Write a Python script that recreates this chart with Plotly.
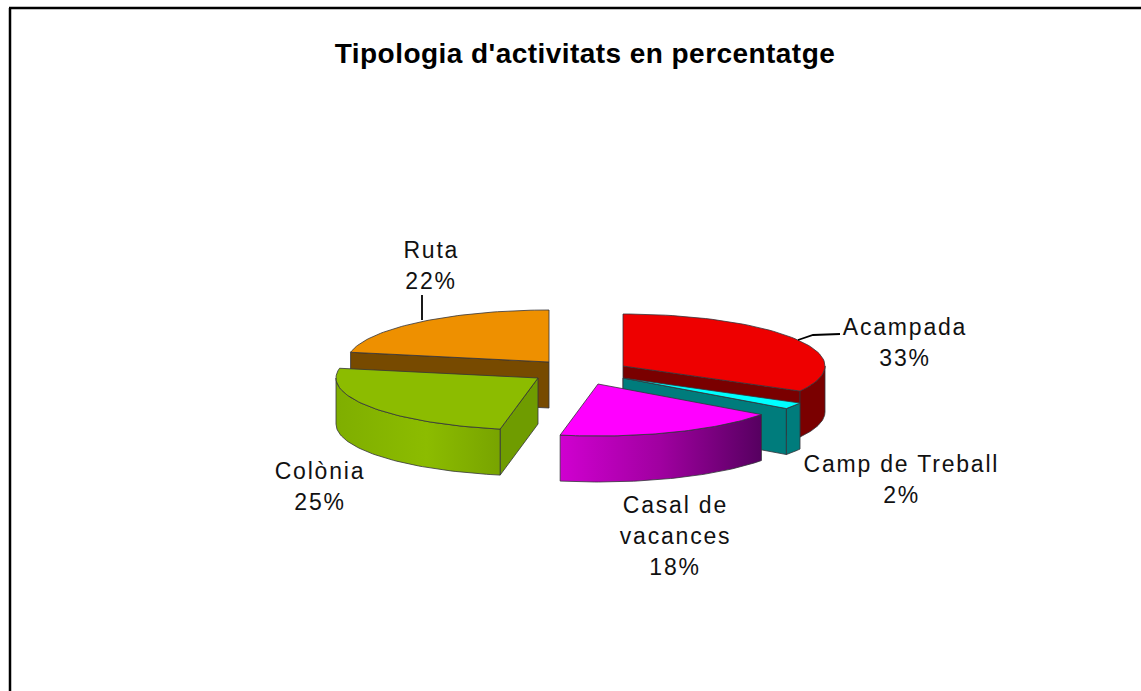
import numpy as np
import plotly.graph_objects as go

# --- data -------------------------------------------------------------
categories = ["Acampada", "Camp de Treball", "Casal de vacances", "Colònia", "Ruta"]
values = [33, 2, 18, 25, 22]
title_text = "Tipologia d'activitats en percentatge"

# --- styling / layout -------------------------------------------------
W, H = 1141, 691
RX, RY, DEPTH = 202, 52, 46
apex = {"Acampada": (623, 366), "Camp de Treball": (623, 378), "Casal de vacances": (598, 384),
        "Colònia": (538, 378), "Ruta": (549, 362)}
top_col = {"Acampada": "#ee0000", "Camp de Treball": "#00ffff", "Casal de vacances": "#ff00ff",
           "Colònia": "#8cbc00", "Ruta": "#ee9000"}
face_col = {"Acampada": "#7a0000", "Camp de Treball": "#007c7c", "Casal de vacances": "#7a007a",
            "Colònia": "#6f9c00", "Ruta": "#774a00"}
wall_grad = {"Casal de vacances": [[0, "#d000d0"], [0.5, "#a000a0"], [1, "#560060"]],
             "Colònia": [[0, "#7fae00"], [0.55, "#8cbc00"], [1, "#78a400"]]}
edge_col = "#33333a"
draw_order = ["Ruta", "Acampada", "Camp de Treball", "Colònia", "Casal de vacances"]
labels = {"Ruta": (431, 250, ["Ruta", "22%"]),
          "Acampada": (905, 327, ["Acampada", "33%"]),
          "Camp de Treball": (901, 464, ["Camp de Treball", "2%"]),
          "Casal de vacances": (675, 505, ["Casal de", "vacances", "18%"]),
          "Colònia": (320, 471, ["Colònia", "25%"])}
line_step = 31
label_size = 23

# --- geometry derived from the values ---------------------------------
cum = np.concatenate([[0], np.cumsum(values)]) / np.sum(values) * 360
spans = {c: (cum[i], cum[i + 1]) for i, c in enumerate(categories)}


def rim(name, a0, a1, n=60):
    t = np.radians(np.linspace(a0, a1, n))
    ax, ay = apex[name]
    return ax + RX * np.sin(t), ay - RY * np.cos(t)


fig = go.Figure()


def poly(x, y, color=None, grad=None, name=""):
    kw = dict(fillcolor=color) if grad is None else dict(
        fillgradient=dict(type="horizontal", colorscale=grad))
    fig.add_trace(go.Scatter(x=list(x), y=list(y), mode="lines", fill="toself", name=name,
                             line=dict(color=edge_col, width=0.8), hoverinfo="name", **kw))


for c in draw_order:
    a0, a1 = spans[c]
    ax, ay = apex[c]
    # cut faces that face the viewer
    for ang, vis in ((a0, 180 < a0 < 360), (a1, 0 < a1 < 180)):
        if vis:
            px, py = rim(c, ang, ang, 1)
            poly([ax, px[0], px[0], ax, ax], [ay, py[0], py[0] + DEPTH, ay + DEPTH, ay], face_col[c], name=c)
    # outer wall, front half only
    w0, w1 = max(a0, 90), min(a1, 270)
    if w1 > w0:
        x, y = rim(c, w0, w1)
        poly(np.r_[x, x[::-1], x[0]], np.r_[y, y[::-1] + DEPTH, y[0]], face_col[c], wall_grad.get(c), name=c)
    # top surface
    x, y = rim(c, a0, a1)
    poly(np.r_[ax, x, ax], np.r_[ay, y, ay], top_col[c], name=c)

# leader lines
leader_w = 1.8
fig.add_trace(go.Scatter(x=[422, 422], y=[320, 295], mode="lines", line=dict(color="black", width=leader_w), hoverinfo="skip"))
fig.add_trace(go.Scatter(x=[798, 813, 840], y=[340, 335, 334], mode="lines", line=dict(color="black", width=leader_w), hoverinfo="skip"))

for c, (cx, cy, lines) in labels.items():
    for i, t in enumerate(lines):
        fig.add_annotation(x=cx, y=cy + i * line_step, text=t, showarrow=False, xref="x", yref="y",
                           font=dict(family="Liberation Sans", size=label_size, color="#111111"))

frame = dict(type="line", xref="x", yref="y", line=dict(color="black", width=2.5))
fig.update_layout(
    width=W, height=H, margin=dict(l=0, r=0, t=0, b=0), showlegend=False,
    paper_bgcolor="white", plot_bgcolor="white",
    title=dict(text=title_text, x=585 / W, xanchor="center", y=1 - 53 / H, yanchor="middle",
               font=dict(family="Liberation Sans", size=28, color="black", weight="bold")),
    xaxis=dict(range=[0, W], visible=False, fixedrange=True),
    yaxis=dict(range=[H, 0], visible=False, fixedrange=True),
    shapes=[dict(x0=9, y0=8, x1=W, y1=8, **frame), dict(x0=10, y0=8, x1=10, y1=H, **frame)],
)
page_css = """
document.body.style.margin='0';
document.body.style.overflow='hidden';
var s=document.createElement('style');
s.textContent='.annotation-text{letter-spacing:1.8px}.gtitle{letter-spacing:0.45px}';
document.head.appendChild(s);
"""
fig.write_html("out.html", config=dict(displayModeBar=False), post_script=page_css)
